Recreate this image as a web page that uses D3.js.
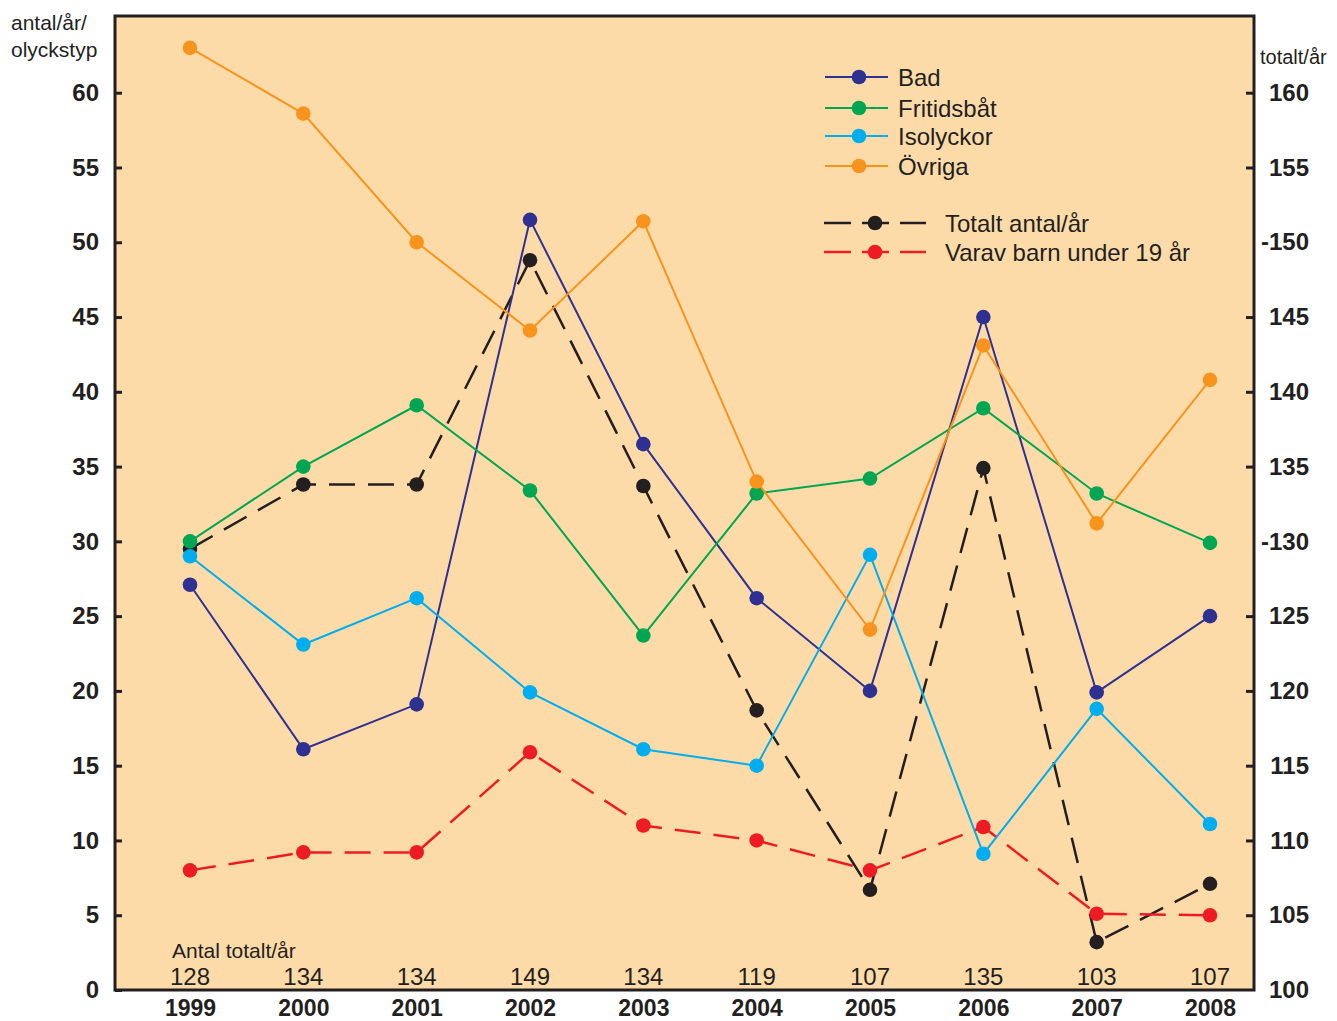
<!DOCTYPE html>
<html lang="sv">
<head>
    <meta charset="UTF-8"/>
    <title>Drunkningsolyckor</title>
    <script src="https://d3js.org/d3.v7.min.js"></script>
    <style>
        body { margin: 0; background: #fff; }
        text { font-family: "Liberation Sans", Arial, sans-serif; fill: #231f20; }
    </style>
</head>
<body>
<div id="chart"></div>
<script>
    // data
    const years = ["1999", "2000", "2001", "2002", "2003", "2004", "2005", "2006", "2007", "2008"];
    const bad = [27.1, 16.1, 19.1, 51.5, 36.5, 26.2, 20.0, 45.0, 19.9, 25.0];
    const fritidsbat = [30.0, 35.0, 39.1, 33.4, 23.7, 33.2, 34.2, 38.9, 33.2, 29.9];
    const isolyckor = [29.0, 23.1, 26.2, 19.9, 16.1, 15.0, 29.1, 9.1, 18.8, 11.1];
    const ovriga = [63.0, 58.6, 50.0, 44.1, 51.4, 34.0, 24.1, 43.1, 31.2, 40.8];
    const totalt = [129.5, 133.8, 133.8, 148.8, 133.7, 118.7, 106.7, 134.9, 103.2, 107.1];
    const barn = [8.0, 9.2, 9.2, 15.9, 11.0, 10.0, 8.0, 10.9, 5.1, 5.0];
    const totaltLabels = ["128", "134", "134", "149", "134", "119", "107", "135", "103", "107"];
    const leftTicks = [0, 5, 10, 15, 20, 25, 30, 35, 40, 45, 50, 55, 60];
    const rightTicks = [100, 105, 110, 115, 120, 125, 130, 135, 140, 145, 150, 155, 160];

    const width = 1337, height = 1021;
    const margin = {top: 16, right: 83, bottom: 31, left: 115};
    const w = width - margin.left - margin.right,
        h = height - margin.top - margin.bottom;

    const svg = d3.select("#chart").append("svg")
        .attr("width", width)
        .attr("height", height);

    const g = svg.append("g").attr("transform", `translate(${margin.left}, ${margin.top})`);

    const x = d3.scalePoint().domain(years).range([75, w - 44]);
    const yL = d3.scaleLinear().domain([0, 65.13]).range([h, 0]);
    const yR = d3.scaleLinear().domain([100, 165.13]).range([h, 0]);

    // background
    g.append("rect")
        .attr("width", w).attr("height", h)
        .attr("fill", "#fddba9");

    // left axis
    const axL = g.append("g")
        .call(d3.axisLeft(yL).tickValues(leftTicks).tickSize(-7).tickPadding(16));
    axL.select(".domain").remove();
    axL.selectAll(".tick line").attr("stroke", "#231f20").attr("stroke-width", 3);
    axL.selectAll(".tick text")
        .style("font-size", "24px").style("font-weight", "bold").attr("fill", "#231f20");

    // right axis
    const axR = g.append("g")
        .attr("transform", `translate(${w}, 0)`)
        .call(d3.axisRight(yR).tickValues(rightTicks).tickSize(-8).tickPadding(0));
    axR.select(".domain").remove();
    axR.selectAll(".tick line")
        .attr("stroke", "#231f20").attr("stroke-width", 3)
        .attr("display", d => (d === 150 || d === 130 || d === 100) ? "none" : null);
    axR.selectAll(".tick text")
        .attr("x", 55)
        .attr("text-anchor", "end")
        .style("font-size", "24px").style("font-weight", "bold").attr("fill", "#231f20")
        .text(d => (d === 150 || d === 130) ? "-" + d : d);

    // x axis labels
    const axX = g.append("g")
        .attr("transform", `translate(0, ${h})`)
        .call(d3.axisBottom(x).tickSize(0).tickPadding(0));
    axX.select(".domain").remove();
    axX.selectAll(".tick text")
        .attr("dy", null)
        .attr("y", 26)
        .style("font-size", "23px").style("font-weight", "bold").attr("fill", "#231f20");

    // frame
    g.append("rect")
        .attr("width", w).attr("height", h)
        .attr("fill", "none")
        .attr("stroke", "#231f20")
        .attr("stroke-width", 3);

    // axis titles
    svg.append("text").attr("x", 11).attr("y", 30).style("font-size", "21px").text("antal/år/");
    svg.append("text").attr("x", 11).attr("y", 57).style("font-size", "21px").text("olyckstyp");
    svg.append("text").attr("x", 1260).attr("y", 64).style("font-size", "20px").text("totalt/år");

    // Antal totalt/år row
    g.append("text")
        .attr("x", x("1999") - 18).attr("y", 958 - margin.top)
        .style("font-size", "21px")
        .text("Antal totalt/år");
    g.selectAll(".totlab")
        .data(totaltLabels)
        .join("text")
        .attr("class", "totlab")
        .attr("x", (d, i) => x(years[i]))
        .attr("y", 985 - margin.top)
        .attr("text-anchor", "middle")
        .style("font-size", "24px")
        .text(d => d);

    const series = [
        {name: "Totalt antal/år", values: totalt, scale: yR, color: "#231f20", dash: "26,13"},
        {name: "Varav barn under 19 år", values: barn, scale: yL, color: "#ed1c24", dash: "26,13"},
        {name: "Bad", values: bad, scale: yL, color: "#2e3192", dash: null},
        {name: "Fritidsbåt", values: fritidsbat, scale: yL, color: "#00a651", dash: null},
        {name: "Isolyckor", values: isolyckor, scale: yL, color: "#00aeef", dash: null},
        {name: "Övriga", values: ovriga, scale: yL, color: "#f7941d", dash: null}
    ];

    series.forEach(s => {
        const line = d3.line()
            .x((d, i) => x(years[i]))
            .y(d => s.scale(d));
        g.append("path")
            .datum(s.values)
            .attr("d", line)
            .attr("fill", "none")
            .attr("stroke", s.color)
            .attr("stroke-width", s.dash ? 2.5 : 2)
            .attr("stroke-dasharray", s.dash);
        g.append("g")
            .selectAll("circle")
            .data(s.values)
            .join("circle")
            .attr("cx", (d, i) => x(years[i]))
            .attr("cy", d => s.scale(d))
            .attr("r", 7.3)
            .attr("fill", s.color);
    });

    // legend
    const legend = svg.append("g");
    const solid = series.filter(s => !s.dash);
    const solidY = [77, 108, 136, 166];
    solid.forEach((s, i) => {
        const yy = solidY[i];
        legend.append("line")
            .attr("x1", 825).attr("x2", 888).attr("y1", yy).attr("y2", yy)
            .attr("stroke", s.color).attr("stroke-width", 2);
        legend.append("circle").attr("cx", 859).attr("cy", yy).attr("r", 7.3).attr("fill", s.color);
        legend.append("text").attr("x", 898).attr("y", yy + 9)
            .style("font-size", "24px").text(s.name);
    });
    const dashed = series.filter(s => s.dash);
    dashed.forEach((s, i) => {
        const yy = 223 + i * 29;
        [[824, 851], [862, 889], [900, 926]].forEach(seg => {
            legend.append("line")
                .attr("x1", seg[0]).attr("x2", seg[1]).attr("y1", yy).attr("y2", yy)
                .attr("stroke", s.color).attr("stroke-width", 2.5);
        });
        legend.append("circle").attr("cx", 875).attr("cy", yy).attr("r", 7.3).attr("fill", s.color);
        legend.append("text").attr("x", 945).attr("y", yy + 9)
            .style("font-size", "24px").text(s.name);
    });
</script>
</body>
</html>
